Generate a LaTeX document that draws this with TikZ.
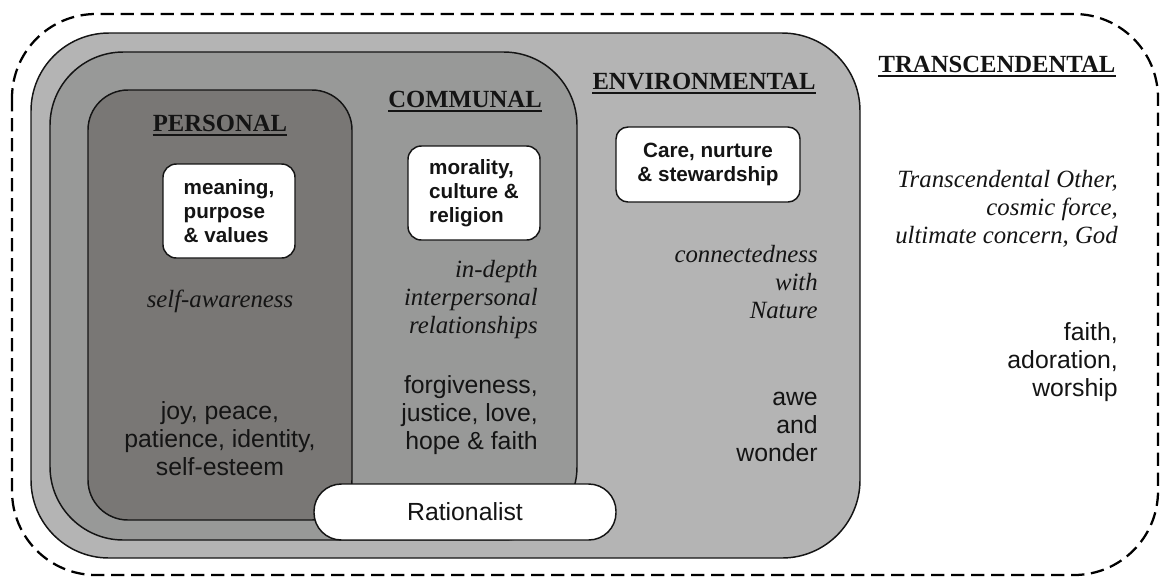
\documentclass[tikz,border=0pt]{standalone}
\usepackage{fontspec}
\setmainfont{Liberation Serif}
\setsansfont{Liberation Sans}
\definecolor{envgray}{RGB}{180,180,180}
\definecolor{comgray}{RGB}{152,153,152}
\definecolor{pergray}{RGB}{121,119,117}
\definecolor{inkc}{RGB}{20,20,20}
\newcommand\rblock[1]{\begin{tabular}[t]{@{}r@{}}#1\end{tabular}}
\newcommand\cblock[1]{\begin{tabular}[t]{@{}c@{}}#1\end{tabular}}
\tikzset{
  zone/.style={draw=inkc, line width=1.1pt},
  whitebox/.style={draw=inkc, fill=white, line width=1.1pt, rounded corners=10pt,
    font=\sffamily\bfseries\fontsize{15.5}{18}\selectfont, inner sep=0pt, text=inkc},
  pill/.style={draw=inkc, fill=white, line width=1.1pt, rounded corners=20.5pt,
    minimum width=226.5pt, minimum height=42pt, inner sep=0pt,
    font=\sffamily\fontsize{18.6}{21.3}\selectfont, text=inkc},
  head/.style={font=\bfseries\fontsize{18.5}{21}\selectfont, anchor=base, inner sep=0pt, text=inkc},
  ital/.style={font=\itshape\fontsize{18.6}{21.3}\selectfont, inner sep=0pt, text=inkc},
  body/.style={font=\sffamily\fontsize{18.6}{21.3}\selectfont, inner sep=0pt, text=inkc},
  uline/.style={line width=1.5pt, draw=inkc},
}
\begin{document}
\begin{tikzpicture}[x=0.75pt,y=-0.75pt]
\useasboundingbox (0,0) rectangle (1162,576);
% outer dashed (transcendental)
\draw[line width=1.7pt, dash pattern=on 10pt off 5pt, rounded corners=63pt]
  (12,14) rectangle (1158,575);
% zones
\draw[zone, fill=envgray, rounded corners=58.5pt] (31,33) rectangle (860,558);
\draw[zone, fill=comgray, rounded corners=55pt] (50,52) rectangle (577,540);
\draw[zone, fill=pergray, rounded corners=30pt] (88,90) rectangle (352,520);
% rationalist pill
\node[pill] (rat) at (465,512) {Rationalist};
% headings
\node[head] (hp) at (220,131) {PERSONAL};
\node[head] (hc) at (465,107) {COMMUNAL};
\node[head] (he) at (704,89) {ENVIRONMENTAL};
\node[head] (ht) at (997,72) {TRANSCENDENTAL};
\foreach \h in {hp,hc,he,ht}
  \draw[uline] ([yshift=-3.2pt]\h.base west) -- ([yshift=-3.2pt]\h.base east);
% white boxes
\node[whitebox, minimum width=99pt, minimum height=70.5pt, align=left] (mvbox) at (229,211)
  {meaning,\\purpose\\\& values};
\node[whitebox, minimum width=99pt, minimum height=70.5pt, align=left] (mcbox) at (474,193)
  {morality,\\culture \&\\religion};
\node[whitebox, rounded corners=9pt, minimum width=138pt, minimum height=56.25pt, align=center] (csbox) at (708,164.5)
  {Care, nurture\\\& stewardship};
% personal texts
\node[ital, anchor=base] (saw) at (220,307) {self-awareness};
\node[body, anchor=base] (pjoy) at (220,419) {\cblock{joy, peace,\\patience, identity,\\self-esteem}};
% communal texts
\node[ital, anchor=base east] (cidr) at (538,277) {\rblock{in-depth\\interpersonal\\relationships}};
\node[body, anchor=base east] (cfor) at (538,393) {\rblock{forgiveness,\\justice, love,\\hope \& faith}};
% environmental texts
\node[ital, anchor=base east] (ecwn) at (818,262) {\rblock{connectedness\\with\\Nature}};
\node[body, anchor=base east] (eawe) at (818,405) {\rblock{awe\\and\\wonder}};
% transcendental texts
\node[ital, anchor=base east] (ttoc) at (1118,187) {\rblock{Transcendental Other,\\cosmic force,\\ultimate concern, God}};
\node[body, anchor=base east] (tfaw) at (1118,340) {\rblock{faith,\\adoration,\\worship}};
\end{tikzpicture}
\end{document}
